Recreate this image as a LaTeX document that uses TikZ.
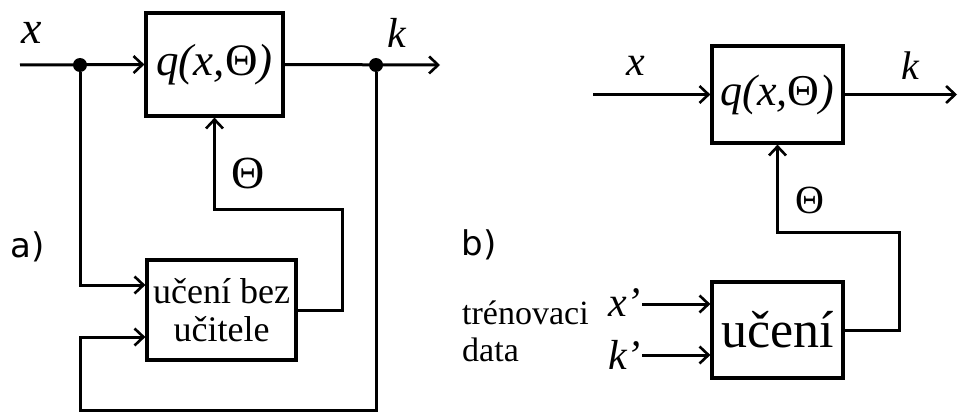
\documentclass[tikz,border=0pt]{standalone}
\usepackage{fontspec}
\setmainfont{Liberation Serif}
\newfontfamily\labfont{DejaVu Sans}
\usetikzlibrary{arrows.meta}
\tikzset{
  blk/.style={draw, line width=3.2pt, inner sep=0pt, rectangle},
  arr/.style={line width=3pt, -{Straight Barb[length=9pt,width=17pt,line width=2.6pt]}},
  dotn/.style={circle, fill=black, inner sep=0pt, minimum size=14pt},
  fs/.style={font=\fontsize{#1}{#1}\selectfont},
  fsi/.style={font=\fontsize{#1}{#1}\selectfont\itshape},
  lab/.style={font=\fontsize{34}{34}\selectfont\labfont},
}
\begin{document}
\begin{tikzpicture}[x=1pt,y=-1pt]
\useasboundingbox (0,0) rectangle (958,412);
% ---------- a) ----------
\node[blk, minimum width=137pt, minimum height=103pt, fs=45] (qa) at (214.5,64.5) {\itshape q(x,\upshape Θ\itshape )};
\node[blk, minimum width=149pt, minimum height=100pt, fs=36, align=center] (la) at (221.5,310) {učení bez\\[2pt]učitele};
\node[dotn] (d1) at (80,65) {};
\node[dotn] (d2) at (376,65) {};
\coordinate (inA) at (20,65);
\coordinate (outA) at (440,65);
\coordinate (ta) at (342,209);
\coordinate (bl) at (80,410);
\coordinate (br) at (376,410);
\draw[arr] (inA) -- (qa.west);
\draw[arr] (qa.east) -- (outA);
\draw[arr] (d1) |- ([yshift=25pt]la.west);
\draw[arr] (d2) -- (br) -- (bl) |- ([yshift=-27pt]la.west);
\draw[arr] (la.east) -| (ta) -| (qa.south);
\node[fsi=46] (xa) at (32,33) {x};
\node[fsi=42] (ka) at (397,33) {k};
\node[fs=46] (tha) at (248,173) {Θ};
\node[lab] (alab) at (28,247) {a)};
% ---------- b) ----------
\node[blk, minimum width=131pt, minimum height=97pt, fs=44] (qb) at (777.5,94.5) {\itshape q(x,\upshape Θ\itshape )};
\node[blk, minimum width=131pt, minimum height=96pt, fs=52] (lb) at (777.5,330) {učení};
\coordinate (inB) at (593,94.5);
\coordinate (outB) at (957,94.5);
\coordinate (tb) at (899,232);
\coordinate (xpin) at (642,304);
\coordinate (kpin) at (642,355);
\draw[arr] (inB) -- (qb.west);
\draw[arr] (qb.east) -- (outB);
\draw[arr] (lb.east) -| (tb) -| (qb.south);
\draw[arr] (xpin) -- (lb.west |- xpin);
\draw[arr] (kpin) -- (lb.west |- kpin);
\node[fsi=42] (xb) at (636,66) {x};
\node[fsi=40] (kb) at (910,66) {k};
\node[fs=40] (thb) at (810,200) {Θ};
\node[lab] (blab) at (479,245) {b)};
\node[fsi=42, anchor=east, inner sep=0pt] (xp) at (641,303) {x’};
\node[fsi=42, anchor=east, inner sep=0pt] (kp) at (641,355) {k’};
\node[fs=34, anchor=west, inner sep=0pt] (tr) at (462,313) {trénovaci};
\node[fs=34, anchor=west, inner sep=0pt] (da) at (462,350) {data};
\end{tikzpicture}
\end{document}
